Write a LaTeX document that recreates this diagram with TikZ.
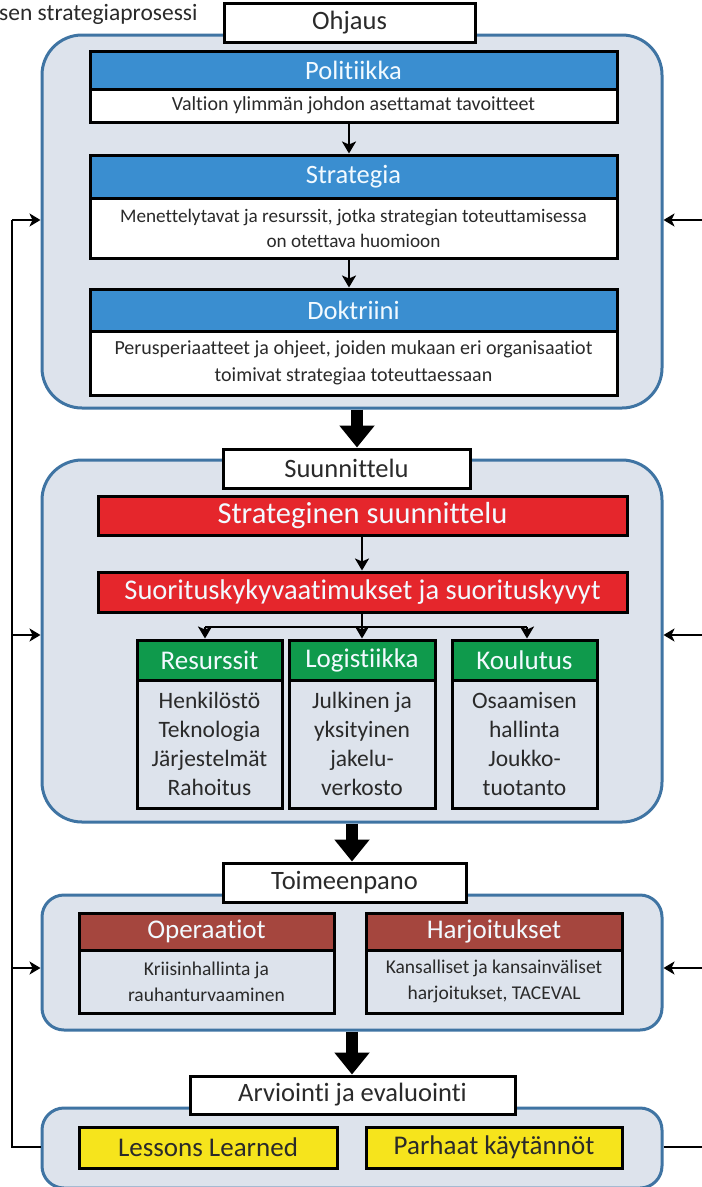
\documentclass[tikz,border=0pt]{standalone}
\usepackage{fontspec}
\setmainfont{Carlito}[Ligatures=NoCommon]
\usetikzlibrary{arrows.meta}
\definecolor{grpfill}{HTML}{DDE3EC}
\definecolor{grpline}{HTML}{3F74A3}
\definecolor{bluehd}{HTML}{3A8ED0}
\definecolor{redhd}{HTML}{E5262C}
\definecolor{greenhd}{HTML}{0F9A4C}
\definecolor{brownhd}{HTML}{A5463E}
\definecolor{yellowbx}{HTML}{F6E41C}
\definecolor{inkc}{HTML}{2A2A2A}
\definecolor{hdtext}{HTML}{F2FAFF}
\tikzset{
  x=1pt, y=-1pt,
  grp/.style={draw=grpline, fill=grpfill, line width=3pt, rounded corners=#1, inner sep=0pt},
  lbl/.style={draw=black, fill=white, line width=3pt, inner sep=0pt, text=inkc, font=\fontsize{26.5}{28}\selectfont},
  hd/.style={draw=black, line width=3pt, inner sep=0pt, fill=#1, text=hdtext},
  bd/.style={draw=black, line width=3pt, inner sep=0pt, align=center, text=inkc},
  sarrow/.style={line width=2.8pt, -{Stealth[length=12pt,width=14pt,inset=3pt]}},
  barrow/.style={line width=12pt, -{Triangle[length=22pt,width=34pt]}},
  fb/.style={line width=2.5pt, -{Stealth[length=11pt,width=13pt,inset=3pt]}},
  fbl/.style={line width=2.5pt},
}
\begin{document}
\begin{tikzpicture}
\useasboundingbox (0,0) rectangle (702,1187);
\fill[white] (0,0) rectangle (702,1187);

\node[anchor=west, inner sep=0pt, text=inkc, font=\fontsize{23.5}{26}\selectfont] (title) at (-1,14) {sen strategiaprosessi};

% ---------- Group 1: Ohjaus
\node[grp=40pt, minimum width=620pt, minimum height=373pt] (g1) at (352,221.5) {};
\node[lbl, minimum width=251pt, minimum height=39pt] (ohj) at (349.5,23) {Ohjaus};

\node[hd=bluehd, minimum width=527pt, minimum height=38pt, font=\fontsize{26.5}{28}\selectfont] (polh) at (353.5,70) {Politiikka};
\node[bd, fill=white, minimum width=527pt, minimum height=33pt, font=\fontsize{20}{24}\selectfont] (polb) at (353.5,105.5) {Valtion ylimmän johdon asettamat tavoitteet};

\node[hd=bluehd, minimum width=527pt, minimum height=43pt, font=\fontsize{26.5}{28}\selectfont] (strh) at (353.5,176.5) {Strategia};
\node[bd, fill=white, minimum width=527pt, minimum height=60pt, font=\fontsize{19.2}{25}\selectfont] (strb) at (353.5,228) {Menettelytavat ja resurssit, jotka strategian toteuttamisessa\\on otettava huomioon};

\node[hd=bluehd, minimum width=527pt, minimum height=42pt, font=\fontsize{26.5}{28}\selectfont] (dokh) at (353.5,310) {Doktriini};
\node[bd, fill=white, minimum width=527pt, minimum height=64pt, font=\fontsize{20}{27}\selectfont] (dokb) at (353.5,363) {Perusperiaatteet ja ohjeet, joiden mukaan eri organisaatiot\\toimivat strategiaa toteuttaessaan};

\draw[sarrow] (polb.south -| 349,0) -- (strh.north -| 349,0);
\draw[sarrow] (strb.south -| 349,0) -- (dokh.north -| 349,0);

% ---------- Group 2: Suunnittelu
\node[grp=40pt, minimum width=620pt, minimum height=362pt] (g2) at (352,641) {};
\node[lbl, minimum width=247pt, minimum height=39pt] (suu) at (346.5,468.5) {Suunnittelu};
\draw[barrow] (g1.south -| 357,0) -- (suu.north -| 357,0);

\node[hd=redhd, minimum width=529pt, minimum height=39pt, font=\fontsize{30.5}{32}\selectfont] (stsu) at (362.5,515.5) {Strateginen suunnittelu};
\node[hd=redhd, minimum width=529pt, minimum height=40pt, font=\fontsize{28.5}{30}\selectfont] (suor) at (362.5,592) {Suorituskykyvaatimukset ja suorituskyvyt};
\draw[sarrow] (stsu.south -| 362,0) -- (suor.north -| 362,0);

\node[hd=greenhd, minimum width=145pt, minimum height=40pt, font=\fontsize{27}{29}\selectfont] (resh) at (209.5,660) {Resurssit};
\node[bd, fill=grpfill, minimum width=145pt, minimum height=128pt, font=\fontsize{23.5}{29}\selectfont] (resb) at (209.5,744) {Henkilöstö\\Teknologia\\Järjestelmät\\Rahoitus};
\node[hd=greenhd, minimum width=146pt, minimum height=40pt, font=\fontsize{27}{29}\selectfont] (logh) at (362,660) {Logistiikka};
\node[bd, fill=grpfill, minimum width=146pt, minimum height=128pt, font=\fontsize{23.5}{29}\selectfont] (logb) at (362,744) {Julkinen ja\\yksityinen\\jakelu-\\verkosto};
\node[hd=greenhd, minimum width=145pt, minimum height=40pt, font=\fontsize{27}{29}\selectfont] (kouh) at (524.5,660) {Koulutus};
\node[bd, fill=grpfill, minimum width=145pt, minimum height=128pt, font=\fontsize{23.5}{29}\selectfont] (koub) at (524.5,744) {Osaamisen\\hallinta\\Joukko-\\tuotanto};

\coordinate (br) at (362,627);
\draw[fbl] (suor.south -| br) -- (br);
\draw[fbl] (205,627) -- (527,627);
\draw[sarrow] (205,627) -- (resh.north -| 205,0);
\draw[sarrow] (br) -- (logh.north);
\draw[sarrow] (527,627) -- (kouh.north -| 527,0);

% ---------- Group 3: Toimeenpano
\node[grp=22pt, minimum width=620pt, minimum height=135pt] (g3) at (352,962.5) {};
\node[lbl, minimum width=243pt, minimum height=39pt] (toi) at (344.5,882.5) {Toimeenpano};
\draw[barrow] (g2.south -| 352,0) -- (toi.north -| 352,0);

\node[hd=brownhd, minimum width=255pt, minimum height=37pt, font=\fontsize{27}{29}\selectfont] (oph) at (206.5,931.5) {Operaatiot};
\node[bd, fill=grpfill, minimum width=255pt, minimum height=63pt, font=\fontsize{19.5}{26}\selectfont] (opb) at (206.5,981.5) {Kriisinhallinta ja\\rauhanturvaaminen};
\node[hd=brownhd, minimum width=256pt, minimum height=37pt, font=\fontsize{27}{29}\selectfont] (hah) at (494,931.5) {Harjoitukset};
\node[bd, fill=grpfill, minimum width=256pt, minimum height=63pt, font=\fontsize{19.5}{26}\selectfont] (hab) at (494,981.5) {Kansalliset ja kansainväliset\\harjoitukset, TACEVAL};

% ---------- Group 4: Arviointi
\node[grp=22pt, minimum width=620pt, minimum height=80pt] (g4) at (352,1148) {};
\node[lbl, minimum width=325pt, minimum height=38pt] (arv) at (352.5,1095) {Arviointi ja evaluointi};
\draw[barrow] (g3.south -| 352,0) -- (arv.north -| 352,0);

\node[bd, fill=yellowbx, minimum width=258pt, minimum height=41pt, font=\fontsize{27}{29}\selectfont] (les) at (208,1147.5) {Lessons Learned};
\node[bd, fill=yellowbx, minimum width=256pt, minimum height=41pt, font=\fontsize{27}{29}\selectfont] (par) at (494,1147.5) {Parhaat käytännöt};

% ---------- Feedback loops
\coordinate (lb) at (12,1147);
\coordinate (lt) at (12,220);
\coordinate (rb) at (710,1147);
\draw[fbl] (g4.west |- lb) -- (lb) -- (lt);
\draw[fb] (lt) -- (g1.west |- lt);
\draw[fb] (12,635) -- (g2.west |- 0,635);
\draw[fb] (12,968) -- (g3.west |- 0,968);
\draw[fbl] (g4.east |- rb) -- (rb);
\draw[fb] (710,220) -- (g1.east |- 0,220);
\draw[fb] (710,635) -- (g2.east |- 0,635);
\draw[fb] (710,968) -- (g3.east |- 0,968);
\end{tikzpicture}
\end{document}
